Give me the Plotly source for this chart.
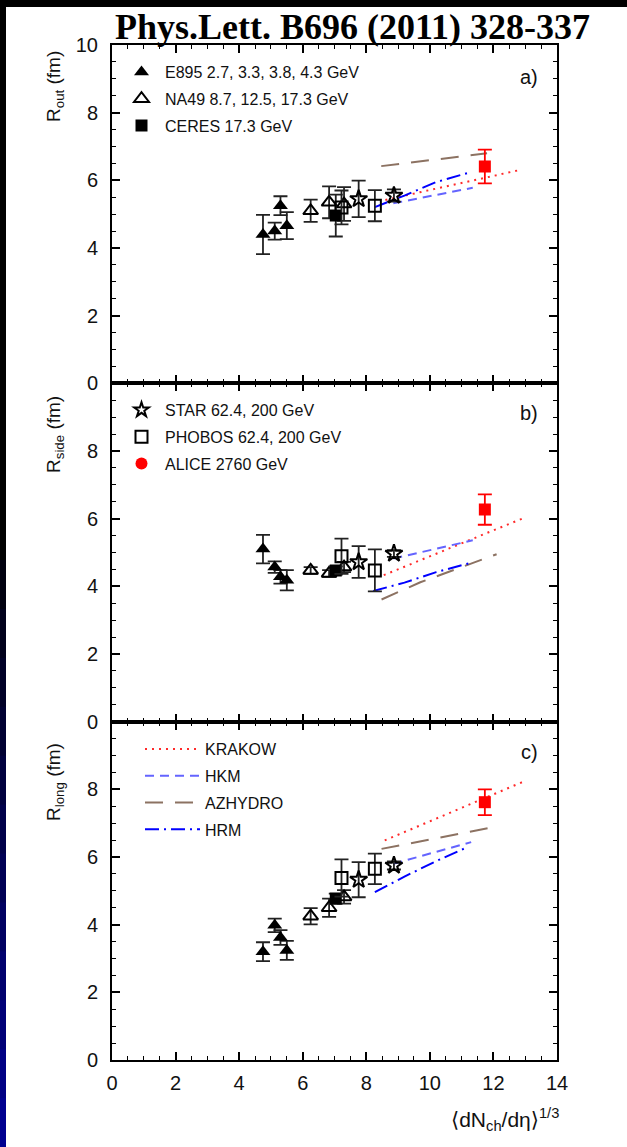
import plotly.graph_objects as go
from plotly.subplots import make_subplots

# ---------------- data ----------------
panels = ["out", "side", "long"]

E895_x = [4.75, 5.12, 5.30, 5.50]
E895_y = {"out": [4.40, 4.50, 5.25, 4.66], "side": [5.10, 4.57, 4.28, 4.18], "long": [3.20, 3.98, 3.62, 3.24]}
E895_e = {"out": [0.58, 0.25, 0.28, 0.40], "side": [0.42, 0.17, 0.20, 0.30], "long": [0.28, 0.20, 0.22, 0.28]}

NA49_x = [6.25, 6.83, 7.30]
NA49_y = {"out": [5.10, 5.35, 5.30], "side": [4.47, 4.38, 4.57], "long": [4.25, 4.50, 4.82]}
NA49_e = {"out": [0.33, 0.47, 0.50], "side": [0.10, 0.10, 0.15], "long": [0.24, 0.27, 0.20]}

CERES_x = [7.04]
CERES_y = {"out": [4.96], "side": [4.47], "long": [4.77]}
CERES_e = {"out": [0.62], "side": [0.12], "long": [0.15]}

STAR_x = [7.76, 8.87]
STAR_y = {"out": [5.45, 5.55], "side": [4.72, 4.97], "long": [5.33, 5.75]}
STAR_e = {"out": [0.54, 0.18], "side": [0.47, 0.10], "long": [0.52, 0.12]}

PHOBOS_x = [7.22, 8.27]
PHOBOS_y = {"out": [5.20, 5.25], "side": [4.89, 4.47], "long": [5.38, 5.65]}
PHOBOS_e = {"out": [0.50, 0.46], "side": [0.52, 0.62], "long": [0.55, 0.45]}

ALICE_x = [11.73]
ALICE_y = {"out": [6.41], "side": [6.27], "long": [7.62]}
ALICE_e = {"out": [0.50], "side": [0.45], "long": [0.38]}

# model curves
KRAKOW_x = {"out": [8.60, 12.90], "side": [8.55, 12.90], "long": [8.58, 12.90]}
KRAKOW_y = {"out": [5.42, 6.32], "side": [4.33, 6.00], "long": [6.49, 8.21]}

HKM_x = {"out": [8.85, 11.35], "side": [8.85, 11.35], "long": [8.85, 11.30]}
HKM_y = {"out": [5.32, 5.78], "side": [4.82, 5.36], "long": [5.80, 6.44]}

AZHYDRO_x = {"out": [8.47, 11.80], "side": [8.48, 9.70, 12.10], "long": [8.48, 12.10]}
AZHYDRO_y = {"out": [6.42, 6.80], "side": [3.61, 4.12, 4.95], "long": [6.24, 6.90]}

HRM_x = {"out": [8.25, 9.20, 10.20, 11.20], "side": [8.22, 9.20, 10.20, 11.26], "long": [8.27, 9.20, 10.20, 11.20]}
HRM_y = {"out": [5.20, 5.55, 5.95, 6.22], "side": [3.86, 4.11, 4.42, 4.69], "long": [4.96, 5.42, 5.88, 6.30]}

y_titles = {"out": "R<sub>out</sub> (fm)", "side": "R<sub>side</sub> (fm)", "long": "R<sub>long</sub> (fm)"}
panel_labels = {"out": "a)", "side": "b)", "long": "c)"}
x_ticks = [0, 2, 4, 6, 8, 10, 12, 14]
y_ticks = [0, 2, 4, 6, 8, 10]

# ---------------- styles ----------------
FONT = "Liberation Sans, Arial, DejaVu Sans, sans-serif"
ERR = "#222222"
models = [
    ("KRAKOW", KRAKOW_x, KRAKOW_y, "#ff2a2a", "2px,5px"),
    ("HKM", HKM_x, HKM_y, "#6464ff", "9px,6px"),
    ("AZHYDRO", AZHYDRO_x, AZHYDRO_y, "#8c7262", "18px,12px"),
    ("HRM", HRM_x, HRM_y, "#0000ff", "14px,5px,2px,5px"),
]
datasets = [
    ("E895 2.7, 3.3, 3.8, 4.3 GeV", E895_x, E895_y, E895_e, "triangle-up", "black", 13, 0, ERR),
    ("NA49 8.7, 12.5, 17.3 GeV", NA49_x, NA49_y, NA49_e, "triangle-up-open", "black", 13, 2, ERR),
    ("CERES 17.3 GeV", CERES_x, CERES_y, CERES_e, "square", "black", 12, 0, ERR),
    ("STAR 62.4, 200 GeV", STAR_x, STAR_y, STAR_e, "star-open", "black", 13, 2, ERR),
    ("PHOBOS 62.4, 200 GeV", PHOBOS_x, PHOBOS_y, PHOBOS_e, "square-open", "black", 12, 2, ERR),
    ("ALICE 2760 GeV", ALICE_x, ALICE_y, ALICE_e, "square", "#ff0000", 12, 0, "#ff0000"),
]

fig = make_subplots(rows=3, cols=1, shared_xaxes=True, vertical_spacing=0)

for r, p in enumerate(panels, start=1):
    for name, mx, my, col, dash in models:
        fig.add_trace(go.Scatter(x=mx[p], y=my[p], mode="lines", showlegend=False,
                                 line=dict(color=col, width=2, dash=dash), hoverinfo="skip"),
                      row=r, col=1)
    for name, dx, dy, de, sym, col, size, lw, ecol in datasets:
        fig.add_trace(go.Scatter(x=dx, y=dy[p], mode="markers", showlegend=False,
                                 marker=dict(symbol=sym, color=col, size=size,
                                             line=dict(color=col, width=lw)),
                                 error_y=dict(type="data", array=de[p], color=ecol,
                                              thickness=1.8, width=7)),
                      row=r, col=1)

# legend-only entries
legend_groups = {
    "legend": ["E895 2.7, 3.3, 3.8, 4.3 GeV", "NA49 8.7, 12.5, 17.3 GeV", "CERES 17.3 GeV"],
    "legend2": ["STAR 62.4, 200 GeV", "PHOBOS 62.4, 200 GeV", "ALICE 2760 GeV"],
}
for name, dx, dy, de, sym, col, size, lw, ecol in datasets:
    lg = "legend" if name in legend_groups["legend"] else "legend2"
    legsym = "circle" if name.startswith("ALICE") else sym
    legsize = 11 if name.startswith("STAR") else size
    fig.add_trace(go.Scatter(x=[None], y=[None], mode="markers", name=name, legend=lg,
                             legendgroup=name, showlegend=True,
                             marker=dict(symbol=legsym, color=col, size=legsize,
                                         line=dict(color=col, width=lw))), row=1, col=1)
for name, mx, my, col, dash in models:
    fig.add_trace(go.Scatter(x=[None], y=[None], mode="lines", name=name, legend="legend3",
                             legendgroup=name, showlegend=True,
                             line=dict(color=col, width=2, dash=dash)), row=1, col=1)

axis_common = dict(showline=True, linewidth=2, linecolor="black", mirror="ticks",
                   ticks="inside", ticklen=8, tickwidth=1.5, tickcolor="black",
                   showgrid=False, zeroline=False,
                   tickfont=dict(family=FONT, size=20, color="#111111"))

for r in (1, 2, 3):
    fig.update_xaxes(range=[0, 14], tickvals=x_ticks, showticklabels=(r == 3),
                     minor=dict(tickmode="linear", tick0=0, dtick=0.5, ticks="inside",
                                ticklen=4, tickwidth=1.2, tickcolor="black"),
                     ticklabelstandoff=4, **axis_common, row=r, col=1)
    fig.update_yaxes(range=[0, 10], tickvals=y_ticks,
                     ticktext=[str(v) if (r == 1 or v < 10) else "" for v in y_ticks],
                     minor=dict(tickmode="linear", tick0=0, dtick=0.5, ticks="inside",
                                ticklen=4, tickwidth=1.2, tickcolor="black"),
                     ticklabelstandoff=8, **axis_common, row=r, col=1)

# geometry helpers (plot area: 112..557 px horizontally, 45..1060 px vertically)
L, R, T, B = 112, 557, 45, 1060
W, H = 627, 1147
def px(xp):
    return (xp - L) / (R - L)
def py(yp):
    return (B - yp) / (B - T)

ann = []
title_y = {"out": 87, "side": 435, "long": 782}
label_y = {"out": 77, "side": 413, "long": 752}
for p in panels:
    ann.append(dict(text=y_titles[p], x=px(55), y=py(title_y[p]), xref="paper", yref="paper",
                    textangle=-90, showarrow=False, xanchor="center", yanchor="middle",
                    font=dict(family=FONT, size=19, color="#111111")))
    ann.append(dict(text=panel_labels[p], x=px(540), y=py(label_y[p]), xref="paper", yref="paper",
                    showarrow=False, xanchor="right", yanchor="middle",
                    font=dict(family=FONT, size=20, color="#111111")))
ann.append(dict(text="⟨dN<sub>ch</sub>/dη⟩<sup>1/3</sup>", x=px(561), y=py(1119),
                xref="paper", yref="paper", showarrow=False, xanchor="right", yanchor="middle",
                font=dict(family=FONT, size=21, color="#111111")))

# background: black slide with white page, dark-blue left strip
shapes = [dict(type="rect", xref="paper", yref="paper", x0=px(6), x1=px(640), y0=py(1160), y1=py(7),
               fillcolor="white", line=dict(width=0), layer="below")]
nb = 12
for i in range(nb):
    y0p = 560 + i * (1147 - 560) / nb
    y1p = 560 + (i + 1) * (1147 - 560) / nb
    t = (i + 0.5) / nb
    shapes.append(dict(type="rect", xref="paper", yref="paper", x0=px(-2), x1=px(6),
                       y0=py(y1p + 1), y1=py(y0p), fillcolor=f"rgb(0,0,{int(10 + 140 * t)})",
                       line=dict(width=0), layer="below"))

leg_common = dict(xanchor="left", yanchor="top", bgcolor="rgba(0,0,0,0)", borderwidth=0,
                  font=dict(family=FONT, size=16, color="#111111"), tracegroupgap=3,
                  itemclick=False, itemdoubleclick=False)

fig.update_layout(
    width=W, height=H,
    margin=dict(l=L, r=W - R, t=T, b=H - B),
    paper_bgcolor="black", plot_bgcolor="white",
    title=dict(text="<b>Phys.Lett. B696 (2011) 328-337</b>", xref="container", yref="container",
               x=115 / W, xanchor="left", y=1 - 26 / H, yanchor="middle",
               font=dict(family="Liberation Serif, Times New Roman, serif", size=36, color="black")),
    annotations=ann, shapes=shapes,
    legend=dict(x=px(118), y=py(55), itemwidth=37, **leg_common),
    legend2=dict(x=px(118), y=py(393), itemwidth=37, **leg_common),
    legend3=dict(x=px(140), y=py(732), itemwidth=55, **leg_common),
)

fig.write_html("out.html",
               config={"displayModeBar": False},
               post_script="document.body.style.margin='0px';"
                           "document.body.style.background='black';"
                           "document.documentElement.style.background='black';")
